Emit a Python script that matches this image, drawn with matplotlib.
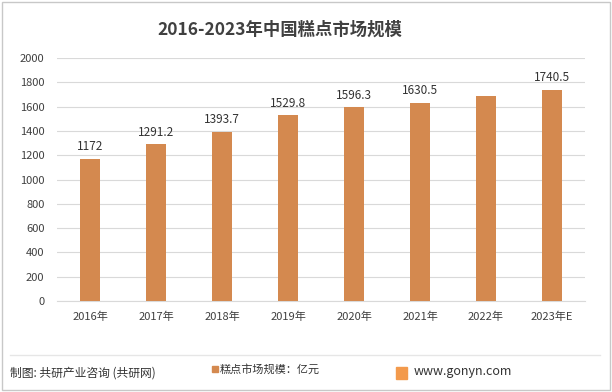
import matplotlib.pyplot as plt
from matplotlib.patches import Rectangle

plt.rcParams['font.family'] = ['Noto Sans CJK SC', 'DejaVu Sans']

# data
years = ['2016年', '2017年', '2018年', '2019年', '2020年', '2021年', '2022年', '2023年E']
values = [1172, 1291.2, 1393.7, 1529.8, 1596.3, 1630.5, 1688, 1740.5]
labels = ['1172', '1291.2', '1393.7', '1529.8', '1596.3', '1630.5', '', '1740.5']

bar_color = '#D4894F'

fig = plt.figure(figsize=(6.12, 3.92), dpi=100)
ax = fig.add_axes([57 / 612, 1 - 301 / 392, 528 / 612, 243 / 392])

x = range(len(years))
bars = ax.bar(x, values, width=0.31, color=bar_color, zorder=3)
for b, lab in zip(bars, labels):
    if lab:
        ax.text(b.get_x() + b.get_width() / 2, b.get_height() + 45, lab,
                ha='center', va='bottom', fontsize=8.5, color='#333333')

ax.set_ylim(0, 2000)
ax.set_yticks(range(0, 2001, 200))
ax.set_xlim(-0.5, len(years) - 0.5)
ax.set_xticks(list(x))
ax.set_xticklabels(years)
ax.grid(axis='y', color='#D9D9D9', linewidth=0.8, zorder=0)
for s in ['top', 'right', 'left']:
    ax.spines[s].set_visible(False)
ax.spines['bottom'].set_color('#D9D9D9')
ax.tick_params(axis='both', length=0, labelsize=8, colors='#404040')
ax.tick_params(axis='x', pad=8)
ax.tick_params(axis='y', pad=9)

# title
fig.text(280 / 612, 1 - 30 / 392, '2016-2023年中国糕点市场规模', ha='center', va='center',
         fontsize=12.5, fontweight='bold', color='#404040')

# frame and footer
fig.add_artist(Rectangle((2 / 612, 2 / 392), 608 / 612, 388 / 392, transform=fig.transFigure,
                         fill=False, edgecolor='#C8C8C8', linewidth=1))
fig.add_artist(plt.Line2D([10 / 612, 600 / 612], [1 - 355 / 392, 1 - 355 / 392],
                          transform=fig.transFigure, color='#E6E6E6', linewidth=1))
fig.text(10 / 612, 1 - 373 / 392, '制图: 共研产业咨询 (共研网)', ha='left', va='center',
         fontsize=8.5, color='#333333')
fig.add_artist(Rectangle((212 / 612, 1 - 372 / 392), 6 / 612, 6 / 392, transform=fig.transFigure,
                         color=bar_color))
fig.text(220 / 612, 1 - 369 / 392, '糕点市场规模：亿元', ha='left', va='center',
         fontsize=8, color='#333333')
fig.add_artist(Rectangle((396 / 612, 1 - 379 / 392), 11 / 612, 12 / 392, transform=fig.transFigure,
                         color='#F39A4C'))
fig.text(414 / 612, 1 - 372 / 392, 'www.gonyn.com', ha='left', va='center',
         fontsize=9, color='#333333')

fig.savefig('out.png', dpi=100, facecolor='white')
